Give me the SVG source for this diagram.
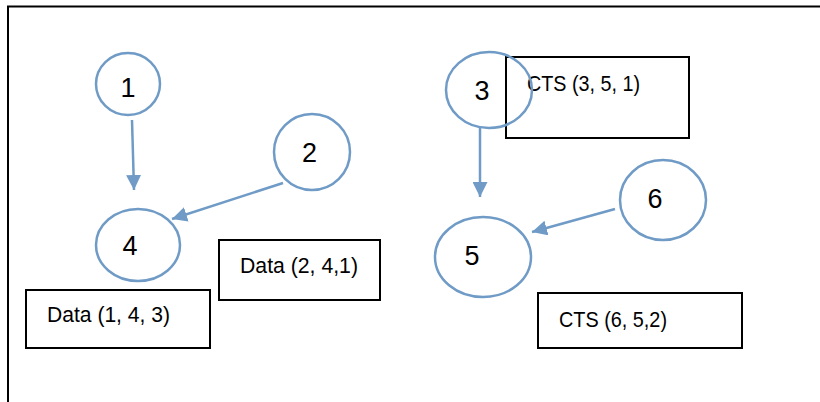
<svg xmlns="http://www.w3.org/2000/svg" width="820" height="402" viewBox="0 0 820 402">
<defs>
<style>
.node{fill:none;stroke:#6f9bc6;stroke-width:2.5}
.box{fill:#fff;stroke:#000;stroke-width:2}
.conn{stroke:#6f9bc6;stroke-width:2.5;fill:none}
.num{font-family:"Liberation Sans",Arial,sans-serif;font-size:27px;fill:#000;text-anchor:middle}
.lbl{font-family:"Liberation Sans",Arial,sans-serif;font-size:22px;fill:#000}
</style>
<marker id="ah" viewBox="0 0 10 10" refX="10" refY="5" markerWidth="6" markerHeight="6" markerUnits="strokeWidth" orient="auto">
<path d="M0,0 L10,5 L0,10 z" fill="#6f9bc6"/>
</marker>
</defs>
<rect width="820" height="402" fill="#fff"/>
<path d="M8,402 V6.5 H820" fill="none" stroke="#000" stroke-width="2"/>
<g id="connectors">
<line class="conn" x1="132" y1="120" x2="134" y2="190" marker-end="url(#ah)"/>
<line class="conn" x1="283" y1="183" x2="172" y2="219" marker-end="url(#ah)"/>
<line class="conn" x1="480" y1="128" x2="480" y2="197" marker-end="url(#ah)"/>
<line class="conn" x1="615" y1="209" x2="532" y2="232" marker-end="url(#ah)"/>
</g>
<g id="node1"><ellipse class="node" cx="128" cy="84" rx="32" ry="31"/><text class="num" x="128" y="97">1</text></g>
<g id="node2"><ellipse class="node" cx="312" cy="152" rx="38" ry="38"/><text class="num" x="309.5" y="162">2</text></g>
<g id="node4"><ellipse class="node" cx="138" cy="245" rx="42" ry="36"/><text class="num" x="130" y="255">4</text></g>
<g id="box-data-143"><rect class="box" x="26" y="290" width="184" height="58"/><text class="lbl" x="47" y="322" textLength="123" lengthAdjust="spacingAndGlyphs">Data (1, 4, 3)</text></g>
<g id="box-data-241"><rect class="box" x="219" y="240" width="161" height="60"/><text class="lbl" x="240" y="273" textLength="118" lengthAdjust="spacingAndGlyphs">Data (2, 4,1)</text></g>
<g id="box-cts-351"><rect class="box" x="506" y="57" width="183" height="81"/><text class="lbl" x="527" y="91" textLength="113" lengthAdjust="spacingAndGlyphs">CTS (3, 5, 1)</text></g>
<g id="node3"><ellipse class="node" cx="489" cy="90" rx="43" ry="38"/><text class="num" x="482" y="100">3</text></g>
<g id="node6"><ellipse class="node" cx="663" cy="200" rx="43" ry="40"/><text class="num" x="655" y="208">6</text></g>
<g id="node5"><ellipse class="node" cx="483" cy="257" rx="48" ry="40"/><text class="num" x="472" y="265">5</text></g>
<g id="box-cts-652"><rect class="box" x="538" y="293" width="204" height="55"/><text class="lbl" x="559" y="327" textLength="108" lengthAdjust="spacingAndGlyphs">CTS (6, 5,2)</text></g>
</svg>
